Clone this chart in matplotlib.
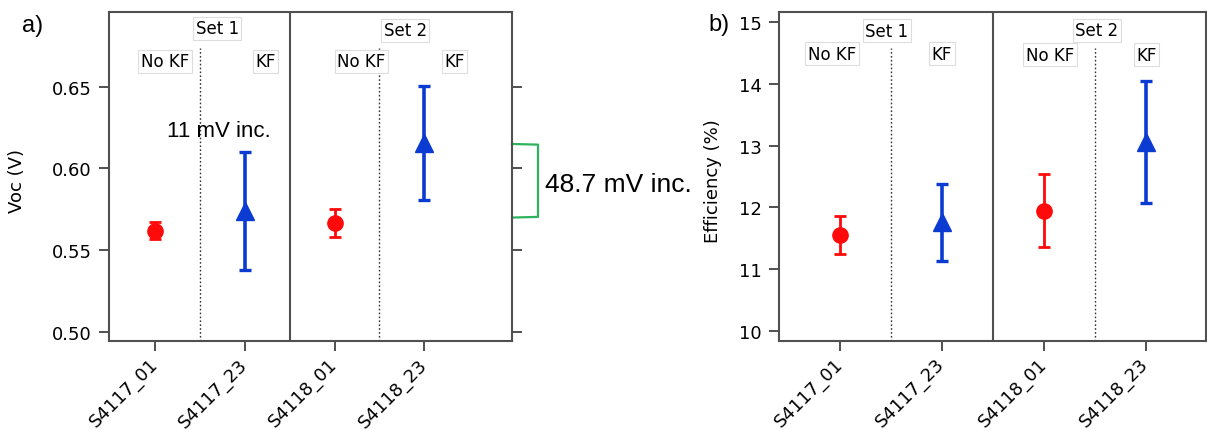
import matplotlib
matplotlib.use("Agg")
import matplotlib.pyplot as plt
import matplotlib.transforms as mtransforms

samples = ["S4117_01", "S4117_23", "S4118_01", "S4118_23"]
treatment = ["No KF", "KF", "No KF", "KF"]
sets = ["Set 1", "Set 2"]

voc_mean = [0.562, 0.574, 0.5665, 0.6155]
voc_err = [0.0053, 0.0358, 0.0085, 0.0347]

eff_mean = [11.556, 11.76, 11.95, 13.06]
eff_err = [0.305, 0.62, 0.59, 0.99]

voc_ticks = [0.50, 0.55, 0.60, 0.65]
eff_ticks = [10, 11, 12, 13, 14, 15]

set1_note = "11 mV inc."
set2_note = "48.7 mV inc."
bracket_y = [0.6150, 0.5700]

RED = "#ff0a0a"
BLUE = "#0b3bd1"
GREEN = "#2db35d"
SPINE = "#505050"

fig = plt.figure(figsize=(12.07, 4.31), dpi=100)
axa = fig.add_axes([0.0903, 0.2065, 0.3339, 0.7633])
axb = fig.add_axes([0.6457, 0.2072, 0.3535, 0.7620])

box = dict(boxstyle="square,pad=0.15", fc="white", ec="#dddddd", lw=0.8)


def draw(ax, means, errs, ylim, yticks, fmt, xlim, ylab, lab_x,
         set_pos, treat_pos):
    xs = list(range(len(samples)))
    for i, (m, e) in enumerate(zip(means, errs)):
        if treatment[i] == "KF":
            ax.errorbar(xs[i], m, yerr=e, fmt="^", color=BLUE, ms=13,
                        elinewidth=2.6, capsize=4.2, capthick=2.4, zorder=3)
        else:
            ax.errorbar(xs[i], m, yerr=e, fmt="o", color=RED, ms=11,
                        elinewidth=2.0, capsize=4.0, capthick=2.0, zorder=3)
    ax.set_xlim(*xlim)
    ax.set_ylim(*ylim)
    ax.set_xticks(xs)
    ax.set_xticklabels(samples, rotation=45, ha="right", va="center",
                       rotation_mode="anchor", fontsize=13)
    ax.set_yticks(yticks)
    ax.set_yticklabels([fmt.format(t) for t in yticks], fontsize=13)
    ax.tick_params(axis="both", direction="out", length=7.5, width=1.4,
                   color=SPINE, pad=5)
    ax.tick_params(axis="y", right=True, labelright=False)
    ax.tick_params(axis="x", pad=7)
    for s in ax.spines.values():
        s.set_color(SPINE)
        s.set_linewidth(1.5)
    ax.set_ylabel(ylab, fontsize=13)
    ax.yaxis.set_label_coords(lab_x, 0.49)
    tr = mtransforms.blended_transform_factory(ax.transData, ax.transAxes)
    # dividers
    ax.plot([0.5, 0.5], [0.0, 0.89], transform=tr, color="#333333", lw=1.0,
            ls=(0, (1.2, 1.6)), zorder=1)
    ax.plot([2.5, 2.5], [0.0, 0.89], transform=tr, color="#333333", lw=1.0,
            ls=(0, (1.2, 1.6)), zorder=1)
    ax.plot([1.5, 1.5], [0.0, 1.0], transform=tr, color=SPINE, lw=1.5,
            zorder=1)
    for (sx, sy), lab in zip(set_pos, sets):
        ax.text(sx, sy, lab, transform=tr, ha="center", va="center",
                fontsize=12, bbox=box)
    for i, (tx, ty) in enumerate(treat_pos):
        ax.text(tx, ty, treatment[i], transform=tr, ha="center", va="center",
                fontsize=12, bbox=box)


draw(axa, voc_mean, voc_err, (0.4945, 0.6957), voc_ticks, "{:.2f}",
     (-0.516, 3.98), "Voc (V)", -0.206,
     [(0.69, 0.951), (2.79, 0.945)],
     [(0.11, 0.851), (1.23, 0.851), (2.30, 0.851), (3.34, 0.851)])

draw(axb, eff_mean, eff_err, (9.848, 15.152), eff_ticks, "{:d}",
     (-0.596, 3.592), "Efficiency (%)", -0.134,
     [(0.46, 0.944), (2.52, 0.946)],
     [(-0.08, 0.874), (1.0, 0.874), (2.06, 0.870), (3.01, 0.870)])

# annotations panel a
axa.text(0.71, 0.6232, set1_note, ha="center", va="center", fontsize=16,
         family="Liberation Sans")
bx0, bx1 = 3.98, 4.27
axa.plot([bx0, bx1, bx1, bx0],
         [bracket_y[0], bracket_y[0] - 0.0004, bracket_y[1] + 0.0004, bracket_y[1]],
         color=GREEN, lw=1.6, clip_on=False, solid_joinstyle="round")
axa.text(4.35, sum(bracket_y) / 2 - 0.002, set2_note, ha="left", va="center",
         fontsize=19, family="Liberation Sans", clip_on=False)

fig.text(0.018, 0.94, "a)", fontsize=17, family="Liberation Sans",
         ha="left", va="center")
fig.text(0.5866, 0.942, "b)", fontsize=17, family="Liberation Sans",
         ha="left", va="center")

fig.savefig("out.png", dpi=100)
